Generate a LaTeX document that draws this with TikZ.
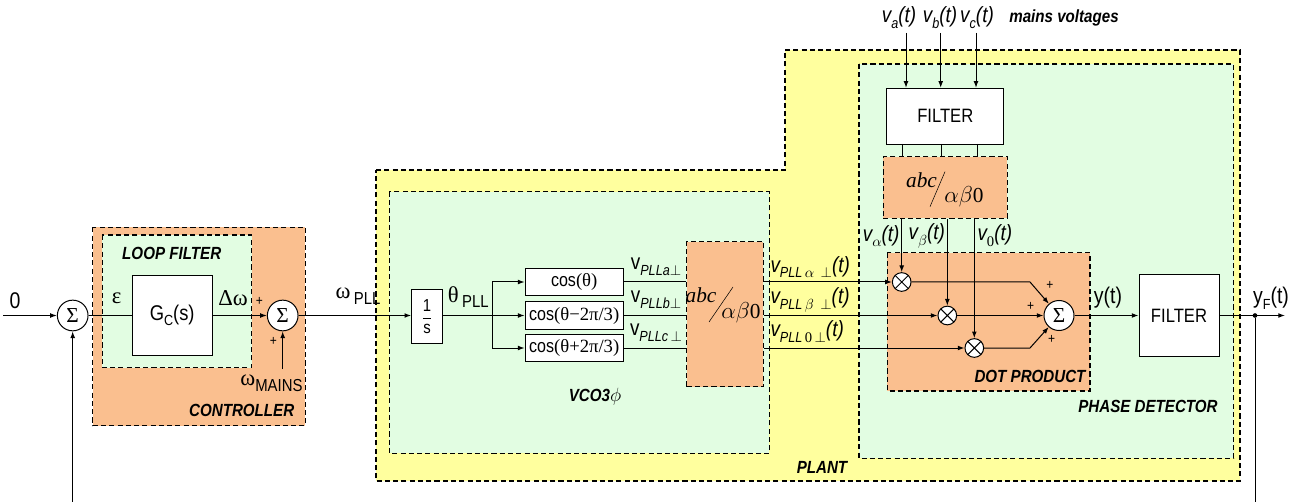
\documentclass[tikz,border=0pt]{standalone}
\usepackage{fontspec}
\setmainfont{Liberation Sans}[FakeStretch=0.86]
\newfontfamily\grkfont{Liberation Serif}
\newfontfamily\tmsfont{Liberation Serif}
\usetikzlibrary{arrows.meta,calc}
\definecolor{plantyellow}{HTML}{FFFF9E}
\definecolor{palegreen}{HTML}{E2FDE2}
\definecolor{tanorange}{HTML}{FABF8F}
\newcommand\fs[1]{\fontsize{#1}{#1}\selectfont}
\newcommand\lowsub[1]{\raisebox{-0.5ex}{\fs{11}#1}}

\begin{document}
\begin{tikzpicture}[x=0.75pt,y=-0.75pt,line width=0.75pt,
  arr/.style={-{Latex[length=5pt,width=3.6pt]}},
  frame/.style={draw,dash pattern=on 3.8pt off 2.4pt,line width=0.9pt},
  blk/.style={draw,fill=white,inner sep=0pt},
  sumc/.style={circle,draw,fill=white,minimum size=23pt,inner sep=0pt,font=\grkfont\fs{16}},
  mult/.style={circle,draw,fill=white,minimum size=14pt,inner sep=0pt,
    path picture={\draw (path picture bounding box.north west) -- (path picture bounding box.south east)
      (path picture bounding box.north east) -- (path picture bounding box.south west);}},
  lbl/.style={inner sep=0pt,font=\fs{16}},
  vlab/.style={inner sep=0pt,font=\fs{16.5}},
  tag/.style={inner sep=0pt,font=\bfseries\itshape\fs{13.2}},
  pm/.style={inner sep=0pt,font=\fs{10.5}},
  dotc/.style={circle,fill,inner sep=0pt,minimum size=3.5pt}
]
\useasboundingbox (0,0) rectangle (1299,502);

% ---- backgrounds ----
\filldraw[fill=plantyellow,frame] (376,170) -- (785,170) -- (785,50) -- (1240,50) -- (1240,481) -- (376,481) -- cycle;
\filldraw[fill=palegreen,frame] (389.3,191.7) rectangle (769.3,453.3);
\filldraw[fill=palegreen,frame] (859,64) rectangle (1233.5,458.3);
\filldraw[fill=tanorange,frame] (92.7,227.3) rectangle (305.3,425.7);
\filldraw[fill=palegreen,frame] (102.3,235) rectangle (251.7,367.7);
\filldraw[fill=tanorange,frame] (887.3,252.7) rectangle (1090,391);

% ---- controller ----
\coordinate (in0) at (3,315.5);
\coordinate (fbL) at (72.7,502);
\node[sumc] (s1) at (72.7,315.5) {Σ};
\node[blk,minimum width=59.8pt,minimum height=60.5pt] (gc) at (172.2,315.5) {\fs{16}G\lowsub{C}(s)};
\node[sumc] (s2) at (282.7,315.5) {Σ};
\coordinate (wm) at (282.7,369);

\node[lbl,font=\fs{17}] at (15,301) {0};
\node[lbl,font=\grkfont\fs{17}] at (116.7,298) {ε};
\node[lbl,font=\grkfont\fs{17}] at (233,298) {Δω};
\node[pm] at (259.3,301.7) {+};
\node[pm] at (273.3,341.7) {+};
\node[lbl,anchor=east] at (303,383) {{\grkfont\fs{17}ω}\lowsub{\fs{13}MAINS}};
\node[tag] at (171.7,253.3) {LOOP FILTER};
\node[tag] at (241.7,410) {CONTROLLER};

\draw[arr] (in0) -- (s1);
\draw[arr] (fbL) -- (s1);
\draw (s1) -- (gc);
\draw[arr] (gc) -- (s2);
\draw[arr] (wm) -- (s2);

% ---- VCO ----
\node[blk,minimum width=23pt,minimum height=40.8pt] (integ) at (427,316.5)
  {\fs{13}$\displaystyle\frac{\mbox{\fs{13}1}}{\mbox{\fs{13}s}}$};
\node[lbl] at (358,296) {{\grkfont\fs{17}ω}\,\lowsub{\fs{13}PLL}};
\draw[arr] (s2) -- (integ.west |- s2);
\node[lbl] at (468.3,297) {{\grkfont\fs{17}θ}\,\lowsub{\fs{13}PLL}};

\node[blk,minimum width=73.7pt,minimum height=20.5pt] (cosA) at (574.2,282) {\fs{14}cos{\grkfont(θ)}};
\node[blk,minimum width=73.7pt,minimum height=20.5pt] (cosB) at (574.2,315.5) {\fs{14}cos{\grkfont(θ−2π/3)}};
\node[blk,minimum width=73.7pt,minimum height=20.5pt] (cosC) at (574.2,348) {\fs{14}cos{\grkfont(θ+2π/3)}};
\coordinate (br) at (492,315.5);
\draw (integ.east |- br) -- (br);
\draw[arr] (br) |- (cosA);
\draw[arr] (br) -- (cosB);
\draw[arr] (br) |- (cosC);

\node[frame,fill=tanorange,minimum width=57.5pt,minimum height=108.75pt,inner sep=0pt] (abc1) at (725,314.2) {};
\node[inner sep=0pt,font=\tmsfont\itshape\fs{16}] at (701,295) {abc};
\draw[line width=0.4pt] (709,322) -- (733,287);
\node[inner sep=0pt,font=\fs{16}] at (741,313) {$\alpha\beta${\tmsfont 0}};

\draw (cosA) -- (abc1.west |- cosA);
\draw (cosB) -- (abc1.west |- cosB);
\draw (cosC) -- (abc1.west |- cosC);
\node[vlab] at (656,267) {v\lowsub{\itshape PLLa$\perp$}};
\node[vlab] at (656,300) {v\lowsub{\itshape PLLb$\perp$}};
\node[vlab] at (656,333) {v\lowsub{\itshape PLLc\,$\perp$}};
\node[tag] at (595,396.7) {VCO3{\mdseries\fs{15}$\phi$}};

% ---- phase detector ----
\node[blk,minimum width=88pt,minimum height=41.8pt] (filt1) at (945.3,116.2) {\fs{14.5}FILTER};
\node[frame,fill=tanorange,minimum width=93pt,minimum height=46.2pt,inner sep=0pt] (abc2) at (945.3,187.5) {};
\node[inner sep=0pt,font=\tmsfont\itshape\fs{16}] at (921.5,180) {abc};
\draw[line width=0.4pt] (930,206.7) -- (945,171.7);
\node[inner sep=0pt,font=\fs{16}] at (964,196.7) {$\alpha\beta${\tmsfont 0}};

\coordinate (va) at (906,33);
\coordinate (vb) at (940.7,33);
\coordinate (vc) at (976,33);
\draw[arr] (va) -- (va |- filt1.north);
\draw[arr] (vb) -- (vb |- filt1.north);
\draw[arr] (vc) -- (vc |- filt1.north);
\node[vlab,font=\itshape\fs{16.5}] at (899,18) {v\lowsub{a}(t)};
\node[vlab,font=\itshape\fs{16.5}] at (940,18) {v\lowsub{b}(t)};
\node[vlab,font=\itshape\fs{16.5}] at (977,18) {v\lowsub{c}(t)};
\node[tag] at (1064,18) {mains voltages};

\foreach \xx in {902,941.7,977}
  \draw (\xx,144) -- (\xx,156.7);

\node[mult] (m1) at (901.7,282) {};
\node[mult] (m2) at (947.3,315.5) {};
\node[mult] (m3) at (974.3,348) {};
\node[sumc,minimum size=22.5pt] (s3) at (1059,315.5) {Σ};

\draw[arr] (m1.north |- abc2.south) -- (m1);
\draw[arr] (m2.north |- abc2.south) -- (m2);
\draw[arr] (m3.north |- abc2.south) -- (m3);
\node[vlab,anchor=east] at (900,236) {\itshape v\lowsub{$\alpha$}(t)};
\node[vlab,anchor=east] at (945.5,236) {\itshape v\lowsub{$\beta$}(t)};
\node[vlab,anchor=west] at (977,236) {\itshape v\lowsub{\tmsfont\upshape 0}(t)};

\draw[arr] (abc1.east |- m1) -- (m1);
\draw[arr] (abc1.east |- m2) -- (m2);
\draw[arr] (abc1.east |- m3) -- (m3);
\node[vlab,anchor=west] at (770,267) {\itshape v\lowsub{PLL$\,\alpha\,\perp$}(t)};
\node[vlab,anchor=west] at (770,300) {\itshape v\lowsub{PLL$\,\beta\,\perp$}(t)};
\node[vlab,anchor=west] at (770,332) {\itshape v\lowsub{PLL\,{\tmsfont\upshape 0}\,$\perp$}(t)};

\coordinate (k1) at (1030,282);
\coordinate (k3) at (1030,348);
\draw[arr] (m1) -- (k1) -- (s3);
\draw[arr] (m2) -- (s3);
\draw[arr] (m3) -- (k3) -- (s3);
\node[pm] at (1050,285) {+};
\node[pm] at (1030.7,306.7) {+};
\node[pm] at (1051.7,339) {+};
\node[tag] at (1030,376) {DOT PRODUCT};
\node[tag] at (1148,406) {PHASE DETECTOR};
\node[tag] at (822,467) {PLANT};

\node[blk,minimum width=60pt,minimum height=60.75pt] (filt2) at (1179,315.5) {\fs{14.5}FILTER};
\draw[arr] (s3) -- (filt2);
\node[lbl,font=\fs{17}] at (1108,298) {y(t)};
\node[dotc] (tap) at (1255,315.5) {};
\coordinate (out) at (1285,315.5);
\coordinate (fbR) at (1255,502);
\draw[arr] (filt2) -- (out);
\draw (tap) -- (fbR);
\node[lbl,font=\fs{17}] at (1271,298) {y\lowsub{F}(t)};
\end{tikzpicture}
\end{document}
